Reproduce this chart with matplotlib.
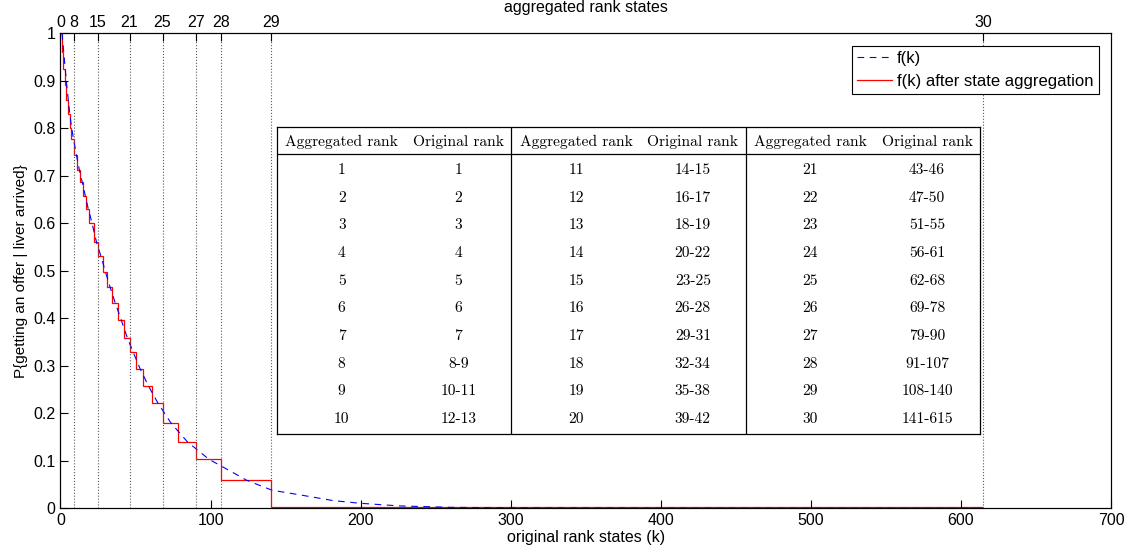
import numpy as np
import matplotlib.pyplot as plt

# f(k)
k_orig = [1, 2, 3, 4, 5, 6, 7, 8.5, 10.5, 12.5, 14.5, 16.5, 18.5, 21, 24, 27, 30, 33,
          36.5, 40.5, 44.5, 48.5, 53, 58.5, 65, 73.5, 84.5, 99, 115, 124, 141, 160,
          182, 200, 226, 260, 300, 400, 500, 615]
f_k = [1.0, 0.965, 0.93, 0.895, 0.865, 0.835, 0.81, 0.78, 0.745, 0.713, 0.686, 0.658,
       0.63, 0.6, 0.56, 0.53, 0.497, 0.466, 0.432, 0.396, 0.359, 0.328, 0.294, 0.258,
       0.221, 0.18, 0.14, 0.103, 0.075, 0.059, 0.038, 0.028, 0.016, 0.0105, 0.005,
       0.002, 0.001, 0.0003, 0.0001, 0.0]

# aggregated states: upper original rank of each group and the step level
group_end = [1, 2, 3, 4, 5, 6, 7, 9, 11, 13, 15, 17, 19, 22, 25, 28, 31, 34, 38, 42,
             46, 50, 55, 61, 68, 78, 90, 107, 140, 615]
f_agg = [1.0, 0.96, 0.925, 0.89, 0.86, 0.83, 0.80, 0.777, 0.744, 0.712, 0.686, 0.658,
         0.63, 0.6, 0.56, 0.53, 0.497, 0.466, 0.432, 0.396, 0.359, 0.328, 0.294, 0.258,
         0.221, 0.18, 0.14, 0.103, 0.059, 0.002]

top_ranks = [0, 8, 15, 21, 25, 27, 28, 29, 30]
top_pos = [0, 9, 25, 46, 68, 90, 107, 140, 615]

agg_rank = [str(i) for i in range(1, 31)]
orig_rank = ['1', '2', '3', '4', '5', '6', '7', '8-9', '10-11', '12-13',
             '14-15', '16-17', '18-19', '20-22', '23-25', '26-28', '29-31', '32-34', '35-38', '39-42',
             '43-46', '47-50', '51-55', '56-61', '62-68', '69-78', '79-90', '91-107', '108-140', '141-615']

plt.rcParams['font.family'] = ['Liberation Sans', 'DejaVu Sans']
fig = plt.figure(figsize=(11.35, 5.54), dpi=100)
ax = fig.add_axes([0.0533, 0.0825, 0.9256, 0.8579])

ax.plot(k_orig, f_k, '--', color='blue', lw=0.8, dashes=(6, 5), label='f(k)')
edges = [0] + group_end
ax.stairs(f_agg, edges, baseline=None, color='red', lw=0.9, label='f(k) after state aggregation')

for p in top_pos[1:]:
    ax.axvline(p, color='0.35', ls=':', lw=0.8)

ax.set_xlim(0, 700)
ax.set_ylim(0, 1)
ax.set_xticks(np.arange(0, 701, 100))
ax.set_yticks(np.arange(0, 1.01, 0.1))
ax.set_yticklabels(['0', '0.1', '0.2', '0.3', '0.4', '0.5', '0.6', '0.7', '0.8', '0.9', '1'])
ax.tick_params(direction='in', length=6, labelsize=11.5, top=False, right=False)
ax.set_xlabel('original rank states (k)', fontsize=11.5, labelpad=1)
ax.set_ylabel('P{getting an offer | liver arrived}', fontsize=11, labelpad=4)

ax2 = ax.twiny()
ax2.set_xlim(0, 700)
ax2.set_xticks(top_pos)
ax2.set_xticklabels([str(r) for r in top_ranks])
ax2.tick_params(direction='in', length=6, labelsize=11.5, pad=2)
ax2.set_xlabel('aggregated rank states', fontsize=11.5, labelpad=2)

leg = ax.legend(loc='upper right', fontsize=12, fancybox=False, edgecolor='black',
                framealpha=1, borderaxespad=0.75, handlelength=2.1, handletextpad=0.3,
                labelspacing=0.5, borderpad=0.3)
leg.get_frame().set_linewidth(0.8)

# table inset
tab = fig.add_axes([0.2441, 0.2166, 0.6194, 0.5542])
tab.set_xlim(0, 1)
tab.set_ylim(1, 0)
tab.set_xticks([])
tab.set_yticks([])
for s in tab.spines.values():
    s.set_linewidth(0.9)
tab.axhline(0.089, color='black', lw=0.9)
tab.axvline(1 / 3, color='black', lw=0.9)
tab.axvline(2 / 3, color='black', lw=0.9)
tfont = dict(family=['cmr10', 'DejaVu Serif'], fontsize=11.2, ha='center', va='center')
for g in range(3):
    cx1 = g / 3 + 0.092
    cx2 = g / 3 + 0.258
    tab.text(cx1, 0.048, 'Aggregated rank', **tfont)
    tab.text(cx2, 0.048, 'Original rank', **tfont)
    for r in range(10):
        y = 0.140 + r * 0.0902
        tab.text(cx1, y, agg_rank[g * 10 + r], **tfont)
        tab.text(cx2, y, orig_rank[g * 10 + r], **tfont)

fig.savefig('out.png', dpi=100)
